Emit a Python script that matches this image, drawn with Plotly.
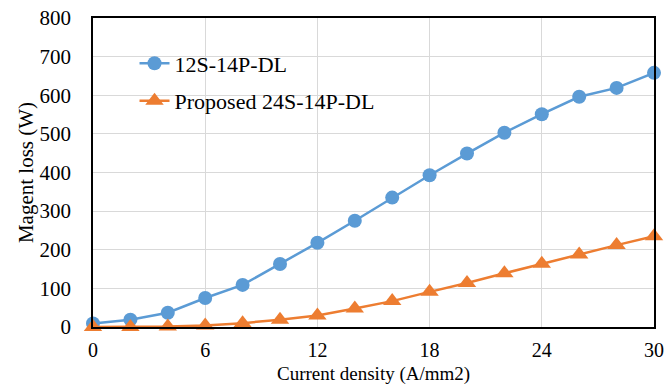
import plotly.graph_objects as go

current_density = [0, 2, 4, 6, 8, 10, 12, 14, 16, 18, 20, 22, 24, 26, 28, 30]
loss_12s = [9, 19, 37, 75, 109, 163, 218, 275, 335, 393, 449, 503, 551, 596, 619, 658]
loss_24s = [0, 0, 1, 4, 10, 19, 30, 48, 67, 91, 114, 139, 164, 188, 212, 235]
series_names = ["12S-14P-DL", "Proposed 24S-14P-DL"]
x_ticks = [0, 6, 12, 18, 24, 30]
y_ticks = [0, 100, 200, 300, 400, 500, 600, 700, 800]

FONT = "Liberation Serif, Times New Roman, serif"
FS = 21
FS_LEG = 22

fig = go.Figure()
fig.add_trace(go.Scatter(
    x=current_density, y=loss_12s, name=series_names[0], mode="lines+markers",
    line=dict(color="#5B9BD5", width=2.5),
    marker=dict(symbol="circle", size=14, color="#5B9BD5"),
    cliponaxis=False, legendgroup="a",
))
fig.add_trace(go.Scatter(
    x=current_density, y=loss_24s, name=series_names[1], mode="lines+markers",
    line=dict(color="#ED7D31", width=2.5),
    marker=dict(symbol="triangle-up", size=16, color="#ED7D31"),
    cliponaxis=False, legendgroup="b",
))

fig.update_layout(
    width=668, height=385,
    margin=dict(l=93, r=14, t=18, b=58),
    paper_bgcolor="white", plot_bgcolor="white",
    font=dict(family=FONT, size=FS, color="black"),
    showlegend=True,
    legend=dict(x=0.074, y=0.921, xanchor="left", yanchor="top",
                bgcolor="rgba(0,0,0,0)", font=dict(size=FS_LEG),
                tracegroupgap=6, traceorder="grouped"),
    xaxis=dict(range=[0, 30], tickvals=x_ticks, showgrid=True, gridcolor="#d9d9d9",
               gridwidth=1, showline=True, linecolor="black", linewidth=1.5, mirror=True,
               ticks="", ticklabelstandoff=4, zeroline=False, automargin=False,
               tickfont=dict(size=20)),
    yaxis=dict(range=[0, 800], tickvals=y_ticks, showgrid=True, gridcolor="#d9d9d9",
               gridwidth=1, showline=True, linecolor="black", linewidth=1.5, mirror=True,
               ticks="", ticklabelstandoff=16, zeroline=False, automargin=False,
               title=dict(text="Magent loss (W)", font=dict(size=FS), standoff=0)),
    annotations=[dict(text="Current density (A/mm2)", xref="paper", yref="paper",
                      x=0.5, y=-0.152, xanchor="center", yanchor="middle",
                      showarrow=False, font=dict(size=19))],
)

fig.write_html("out.html", config={"displayModeBar": False},
               post_script="document.body.style.margin='0';")
